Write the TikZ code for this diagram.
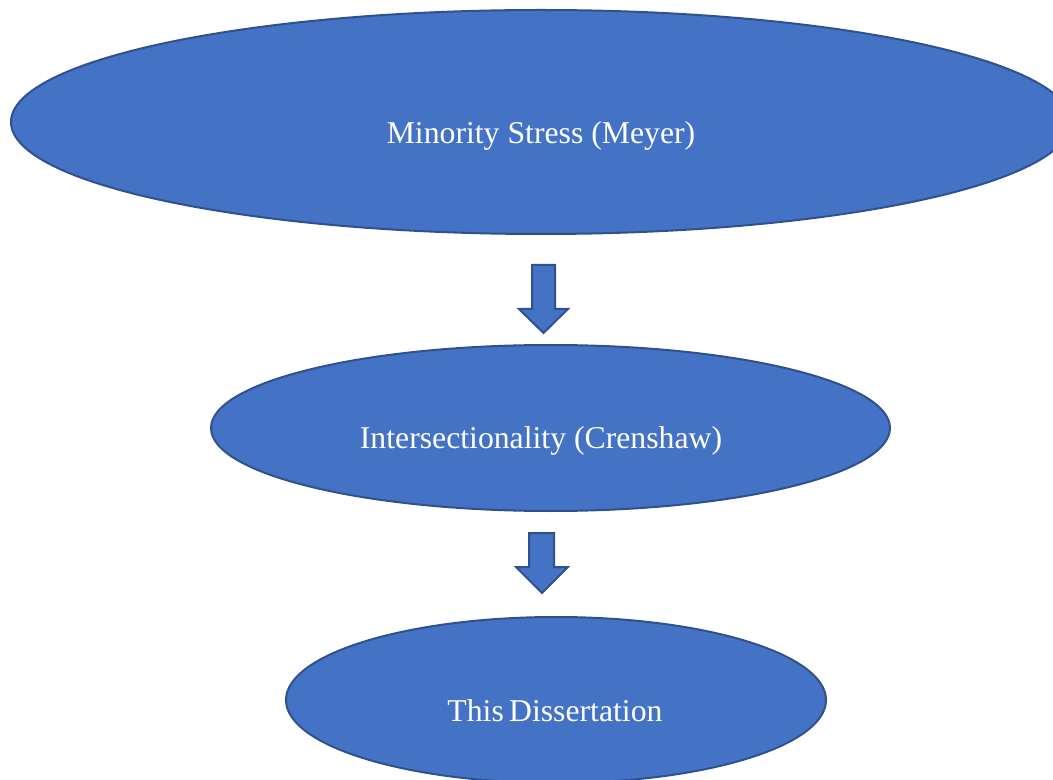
\documentclass[tikz,border=0pt]{standalone}
\usepackage{fontspec}
\setmainfont{Liberation Serif}
\usetikzlibrary{shapes.geometric}
\definecolor{fillblue}{HTML}{4472C4}
\definecolor{edgeblue}{HTML}{2F528F}
\tikzset{
  oval/.style={ellipse, fill=fillblue, draw=edgeblue, line width=1.5pt, inner sep=0pt},
  ovaltext/.style={text=white, font=\fontsize{23.8}{28}\selectfont},
  blockarrow/.style={fill=fillblue, draw=edgeblue, line width=1.5pt, line join=miter}
}
\begin{document}
\begin{tikzpicture}[x=0.75pt,y=-0.75pt]
\useasboundingbox (0,0) rectangle (1053,780);
\clip (0,0) rectangle (1053,780);
\node[oval, minimum width=1060*0.75pt, minimum height=224*0.75pt] (ms) at (541,122) {};
\node[ovaltext] (mst) at (541,136) {Minority Stress (Meyer)};
\node[oval, minimum width=679*0.75pt, minimum height=166*0.75pt] (ic) at (550.5,428) {};
\node[ovaltext] (ict) at (541,441) {Intersectionality (Crenshaw)};
\node[oval, minimum width=540*0.75pt, minimum height=166*0.75pt] (td) at (556,700) {};
\node[ovaltext] (tdt) at (555,711) {This\,Dissertation};
% block arrows
\draw[blockarrow] (532,265) -- (555,265) -- (555,309) -- (568,309) -- (543.5,333) -- (519,309) -- (532,309) -- cycle;
\draw[blockarrow] (529,533) -- (554,533) -- (554,567) -- (568,567) -- (542,593) -- (516,567) -- (529,567) -- cycle;
\end{tikzpicture}
\end{document}
